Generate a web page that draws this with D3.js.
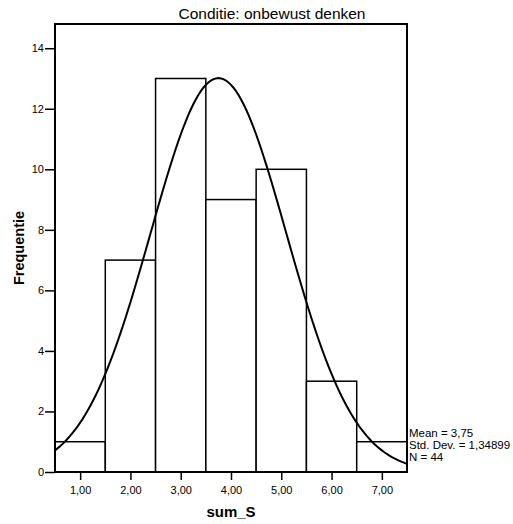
<!DOCTYPE html>
<html>
<head>
<meta charset="utf-8">
<script src="https://cdn.jsdelivr.net/npm/d3@7"></script>
<style>
  html, body { margin: 0; padding: 0; background: #fff; }
  svg { display: block; font-family: Arial, "Liberation Sans", sans-serif; }
</style>
</head>
<body>
<svg id="chart" width="513" height="524"></svg>
<script>
// Histogram of sum_S with a fitted normal curve
const binStarts = [0.5, 1.5, 2.5, 3.5, 4.5, 5.5, 6.5];
const binWidth = 1;
const counts = [1, 7, 13, 9, 10, 3, 1];
const xTicks = [1, 2, 3, 4, 5, 6, 7];
const yTicks = [0, 2, 4, 6, 8, 10, 12, 14];
const mean = 3.75;
const stdDev = 1.34899;
const n = 44;
const title = "Conditie: onbewust denken";
const xTitle = "sum_S";
const yTitle = "Frequentie";
const statLines = ["Mean = 3,75", "Std. Dev. = 1,34899", "N = 44"];

const svg = d3.select("#chart");
const plotLeft = 55, plotRight = 407, plotTop = 24, plotBottom = 472;

const x = d3.scaleLinear().domain([0.5, 7.5]).range([plotLeft, plotRight]);
const y = d3.scaleLinear().domain([0, 14.8]).range([plotBottom, plotTop]);

// bars
svg.append("g").selectAll("rect")
  .data(counts.map((c, i) => ({ x0: binStarts[i], c })))
  .join("rect")
  .attr("x", d => x(d.x0))
  .attr("y", d => y(d.c))
  .attr("width", d => x(d.x0 + binWidth) - x(d.x0))
  .attr("height", d => y(0) - y(d.c))
  .attr("fill", "#fff")
  .attr("stroke", "#000")
  .attr("stroke-width", 1.5);

// normal curve scaled to the counts
const pdf = v => n * binWidth / (stdDev * Math.sqrt(2 * Math.PI)) *
  Math.exp(-0.5 * Math.pow((v - mean) / stdDev, 2));
const curvePts = d3.range(0, 141).map(i => {
  const v = 0.5 + i * 7 / 140;
  return [v, pdf(v)];
});
svg.append("path")
  .datum(curvePts)
  .attr("fill", "none")
  .attr("stroke", "#000")
  .attr("stroke-width", 2)
  .attr("d", d3.line().x(d => x(d[0])).y(d => y(d[1])));

// frame
svg.append("rect")
  .attr("x", plotLeft).attr("y", plotTop)
  .attr("width", plotRight - plotLeft).attr("height", plotBottom - plotTop)
  .attr("fill", "none").attr("stroke", "#000").attr("stroke-width", 2);

// axes
const fmt = v => d3.format(".2f")(v).replace(".", ",");
const xAxis = svg.append("g")
  .attr("transform", `translate(0,${plotBottom})`)
  .call(d3.axisBottom(x).tickValues(xTicks).tickFormat(fmt).tickSize(8).tickPadding(6));
const yAxis = svg.append("g")
  .attr("transform", `translate(${plotLeft},0)`)
  .call(d3.axisLeft(y).tickValues(yTicks).tickFormat(d3.format("d")).tickSize(10).tickPadding(1));
[xAxis, yAxis].forEach(a => {
  a.select(".domain").remove();
  a.selectAll(".tick line").attr("stroke", "#000").attr("stroke-width", 1.5);
  a.selectAll(".tick text").attr("fill", "#000")
    .style("font-family", "Arial, 'Liberation Sans', sans-serif").style("font-size", "11px");
});

// titles
svg.append("text")
  .attr("x", 272).attr("y", 19)
  .attr("text-anchor", "middle")
  .style("font-size", "15.5px")
  .text(title);
svg.append("text")
  .attr("x", (plotLeft + plotRight) / 2).attr("y", 517)
  .attr("text-anchor", "middle")
  .style("font-size", "15px").style("font-weight", "bold")
  .text(xTitle);
svg.append("text")
  .attr("transform", `translate(24,${(plotTop + plotBottom) / 2}) rotate(-90)`)
  .attr("text-anchor", "middle")
  .style("font-size", "14.5px").style("font-weight", "bold")
  .text(yTitle);

// summary statistics
svg.append("g").selectAll("text")
  .data(statLines)
  .join("text")
  .attr("x", 409)
  .attr("y", (d, i) => 437 + i * 12)
  .style("font-size", "11.5px")
  .text(d => d);
</script>
</body>
</html>
